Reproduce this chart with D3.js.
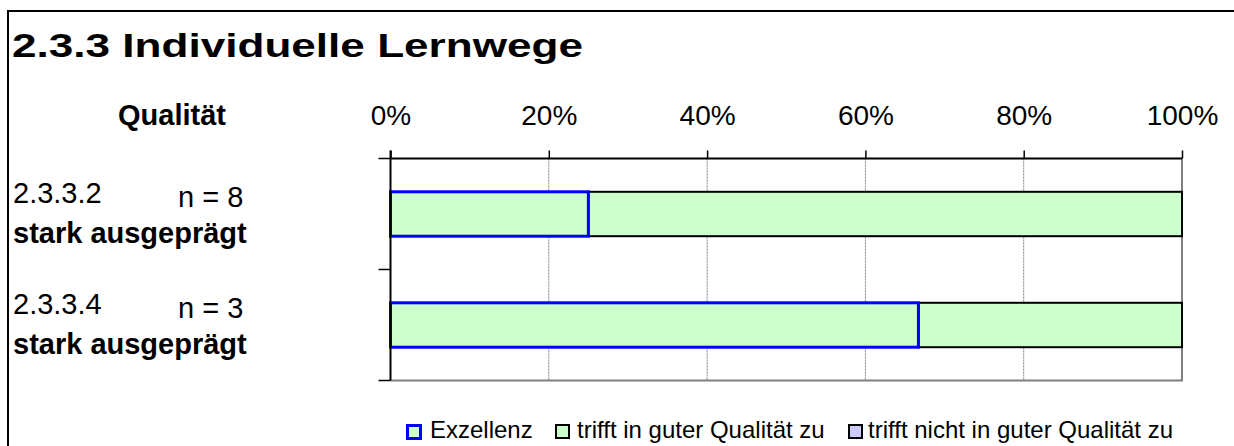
<!DOCTYPE html>
<html lang="de">
<head>
<meta charset="utf-8">
<title>2.3.3 Individuelle Lernwege</title>
<script src="https://cdn.jsdelivr.net/npm/d3@7"></script>
<style>
  body { margin: 0; background: #fff; overflow: hidden; }
  svg { display: block; font-family: "Liberation Sans", Arial, sans-serif; }
</style>
</head>
<body>
<svg id="chart" width="1234" height="446"></svg>
<script>
// data
var codes = ["2.3.3.2", "2.3.3.4"];
var nCounts = [8, 3];
var levels = ["stark ausgeprägt", "stark ausgeprägt"];
var seriesNames = ["Exzellenz", "trifft in guter Qualität zu", "trifft nicht in guter Qualität zu"];
var exzellenz = [25, 66.7];
var guteQualitaet = [75, 33.3];
var nichtGut = [0, 0];
var xTicks = [0, 20, 40, 60, 80, 100];

var fills = ["#ccffcc", "#ccffcc", "#ccccff"];
var strokes = ["#0000ff", "#000000", "#000000"];
var strokeW = [3, 2, 2];

var svg = d3.select("#chart");

// outer frame (runs past the right and bottom edge)
svg.append("rect")
  .attr("x", 8).attr("y", 11)
  .attr("width", 1240).attr("height", 450)
  .attr("fill", "none").attr("stroke", "#000").attr("stroke-width", 2);

svg.append("text")
  .attr("x", 12).attr("y", 57)
  .attr("font-size", 34).attr("font-weight", "bold")
  .attr("textLength", 571).attr("lengthAdjust", "spacingAndGlyphs")
  .text("2.3.3 Individuelle Lernwege");

var pLeft = 390.5, pRight = 1182, pTop = 158.5, pBottom = 380.5;

var x = d3.scaleLinear().domain([0, 100]).range([pLeft, pRight]);
var y = d3.scaleBand().domain(codes).range([pTop, pBottom])
  .paddingInner(0.6).paddingOuter(0.3);

// grid lines
svg.append("g")
  .selectAll("line")
  .data(xTicks.slice(1, -1))
  .join("line")
  .attr("x1", d => x(d)).attr("x2", d => x(d))
  .attr("y1", pTop).attr("y2", pBottom)
  .attr("stroke", "#808080").attr("stroke-width", 1)
  .attr("stroke-dasharray", "2,1");

// right + bottom border of the plot area
svg.append("path")
  .attr("d", "M" + pRight + "," + pTop + "V" + pBottom + "H" + pLeft)
  .attr("fill", "none").attr("stroke", "#808080").attr("stroke-width", 2);

// stacked bars
var rows = codes.map(function(c, i) {
  return { code: c, vals: [exzellenz[i], guteQualitaet[i], nichtGut[i]] };
});
rows.forEach(function(r) {
  var acc = 0;
  var segs = r.vals.map(function(v, k) {
    var s = { k: k, x0: acc, x1: acc + v };
    acc += v;
    return s;
  }).filter(s => s.x1 > s.x0);
  // black-edged segments first, blue one on top
  segs.sort((a, b) => b.k - a.k);
  svg.append("g").selectAll("rect")
    .data(segs)
    .join("rect")
    .attr("x", s => x(s.x0)).attr("width", s => x(s.x1) - x(s.x0))
    .attr("y", y(r.code)).attr("height", y.bandwidth())
    .attr("fill", s => fills[s.k])
    .attr("stroke", s => strokes[s.k])
    .attr("stroke-width", s => strokeW[s.k]);
});

// top axis
var xAxis = d3.axisTop(x).tickValues(xTicks).tickFormat(d => d + "%").tickSize(8).tickPadding(26);
var gx = svg.append("g").attr("transform", "translate(0," + pTop + ")").call(xAxis);
gx.select(".domain").attr("stroke", "#000").attr("stroke-width", 2).attr("d", "M" + pLeft + ",0H" + pRight);
gx.selectAll(".tick line").attr("stroke", "#000").attr("stroke-width", 1.5);
gx.selectAll(".tick text").attr("fill", "#000").attr("font-size", 28)
  .attr("font-family", "'Liberation Sans', Arial, sans-serif");

// left axis, ticks between categories
var yEdges = [pTop, (pTop + pBottom) / 2, pBottom];
svg.append("line")
  .attr("x1", pLeft).attr("x2", pLeft).attr("y1", pTop - 8).attr("y2", pBottom)
  .attr("stroke", "#000").attr("stroke-width", 2);
svg.append("g").selectAll("line")
  .data(yEdges)
  .join("line")
  .attr("x1", pLeft - 12).attr("x2", pLeft)
  .attr("y1", d => d).attr("y2", d => d)
  .attr("stroke", "#000").attr("stroke-width", 1.5);

svg.append("text")
  .attr("x", 172).attr("y", 125)
  .attr("text-anchor", "middle")
  .attr("font-size", 29).attr("font-weight", "bold")
  .text("Qualität");

// row labels
codes.forEach(function(c, i) {
  var t = y(c) - y.step() * 0.3;
  svg.append("text").attr("x", 13).attr("y", t + 44)
    .attr("font-size", 29).text(c);
  svg.append("text").attr("x", 178).attr("y", t + 48)
    .attr("font-size", 29).text("n = " + nCounts[i]);
  svg.append("text").attr("x", 13).attr("y", t + 84)
    .attr("font-size", 29).attr("font-weight", "bold").text(levels[i]);
});

// legend
var legX = [406, 555, 848];
var legTextDx = [24, 22, 20];
var leg = svg.append("g").selectAll("g")
  .data(seriesNames)
  .join("g")
  .attr("transform", (d, i) => "translate(" + legX[i] + ",424)");
leg.append("rect")
  .attr("x", (d, i) => i === 0 ? 1.5 : 1).attr("y", (d, i) => i === 0 ? 1.5 : 1)
  .attr("width", 13).attr("height", 13)
  .attr("fill", (d, i) => fills[i])
  .attr("stroke", (d, i) => strokes[i])
  .attr("stroke-width", (d, i) => strokeW[i]);
leg.append("text")
  .attr("x", (d, i) => legTextDx[i]).attr("y", 14)
  .attr("font-size", 24).text(d => d);
</script>
</body>
</html>
